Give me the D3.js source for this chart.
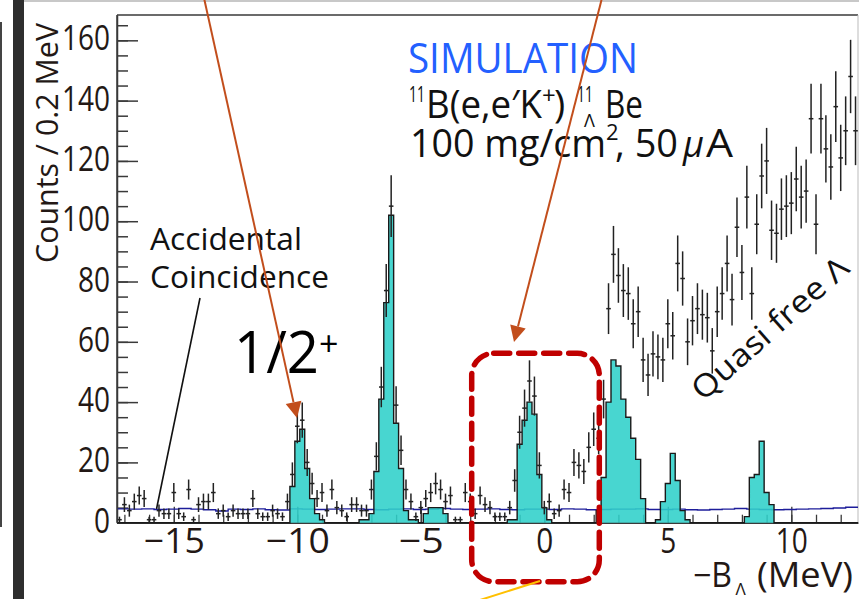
<!DOCTYPE html>
<html><head><meta charset="utf-8">
<script src="https://cdn.jsdelivr.net/npm/d3@7"></script>
<style>
html,body{margin:0;padding:0;background:#fff;}
svg{display:block;}
text{font-family:"Open Sans","Noto Sans",sans-serif;}
</style></head><body>
<svg id="chart" width="859" height="599"></svg>
<script>
// Missing-mass spectrum, 0.2 MeV bins centred on -17.2, -17.0, ... 12.6
const binWidth = 0.2;
const firstBinCenter = -17.2;
const xDomain = [-17.3, 12.7];
const yDomain = [0, 168.4];
const xTickValues = [-15, -10, -5, 0, 5, 10];
const yTickValues = [0, 20, 40, 60, 80, 100, 120, 140, 160];

// Counts per bin (black points with statistical errors)
const observedCounts = [
  1, 6, 4, 7, 9, 8, 1, 1, 4, 3,
  3, 10, 3, 2, 11, 1, 6, 7, 7, 10,
  3, 4, 2, 4, 3, 3, 3, 8, 3, 2,
  2, 4, 3, 2, 7, 16, 32, 34, 20, 13,
  8, 10, 4, 11, 5, 4, 2, 6, 6, 4,
  4, 11, 22, 45, 77, 105, 39, 24, 11, 7,
  2, 5, 8, 10, 13, 11, 7, 9, 1, 1,
  10, 7, 3, 9, 6, 5, 2, 2, 2, 5,
  14, 30, 38, 47, 42, 19, 5, 7, 3, 4,
  11, 10, 20, 19, 17, 25, 31, 28, 41, 71,
  89, 82, 77, 76, 66, 70, 54, 49, 56, 55,
  54, 66, 62, 86, 81, 60, 67, 71, 69, 68,
  57, 70, 76, 86, 74, 98, 83, 108, 76, 99,
  115, 120, 97, 96, 104, 105, 106, 114, 108, 110,
  134, 99, 134, 124, 118, 138, 121, 130, 148, 130
];

// Hypernuclear states (filled histogram)
const simulatedCounts = [
  0, 0, 0, 0, 0, 0, 0, 0, 0, 0,
  0, 0, 0, 0, 0, 0, 0, 0, 0, 0,
  0, 0, 0, 0, 0, 0, 0, 0, 0, 0,
  0, 0, 0, 0, 0, 12, 27, 31, 18, 8,
  3, 1, 0, 0, 0, 0, 0, 0, 0, 1,
  1, 3, 17, 41, 73, 102, 33, 18, 4, 1,
  1, 0, 3, 5, 5, 5, 3, 0, 0, 0,
  0, 0, 0, 0, 0, 0, 0, 0, 0, 1,
  1, 26, 34, 40, 36, 16, 5, 1, 0, 0,
  0, 0, 0, 0, 0, 0, 0, 4, 15, 40,
  54, 52, 41, 35, 28, 21, 8, 0, 0, 1,
  7, 13, 23, 14, 4, 1, 0, 0, 0, 0,
  0, 0, 0, 0, 0, 0, 0, 2, 15, 16,
  27, 10, 6, 0, 0, 0, 0, 0, 0, 0,
  0, 0, 0, 0, 0, 0, 0, 0, 0, 0
];

// Accidental coincidence level, 0.5 MeV steps from -17.3 MeV
const accidentalStep = 0.5;
const accidentalLevel = [
  4.6, 4.5, 4.6, 4.4, 4.5, 4.7, 4.5, 4.3, 3.9, 4.5,
  4.4, 4.6, 4.3, 4.2, 4.6, 4.5, 4.4, 4.5, 4.6, 4.6,
  4.4, 4.3, 4.5, 4.6, 4.4, 4.5, 4.7, 4.5, 4.4, 4.5,
  4.6, 4.4, 4.3, 4.5, 4.5, 4.4, 4.6, 4.5, 4.3, 4.4,
  4.5, 4.5, 4.6, 4.4, 4.4, 4.5, 4.3, 4.2, 4.4, 4.5,
  4.7, 4.5, 4.4, 4.3, 4.4, 4.5, 4.6, 4.7, 4.9, 5.1
];

const svg = d3.select("#chart");
const x = d3.scaleLinear().domain(xDomain).range([117, 858]);
const y = d3.scaleLinear().domain(yDomain).range([522.7, 15]);
const ink = "#231815";

// slide decorations around the figure
svg.append("rect").attr("x", 13).attr("y", 0).attr("width", 11).attr("height", 599).attr("fill", "#2e2e2e");
svg.append("line").attr("x1", 1).attr("x2", 1).attr("y1", 22).attr("y2", 527).attr("stroke", "#444").attr("stroke-width", 2);
svg.append("line").attr("x1", 24).attr("x2", 859).attr("y1", 1).attr("y2", 1).attr("stroke", "#c8c8c8").attr("stroke-width", 2);

// frame
svg.append("line").attr("x1", 117).attr("x2", 858).attr("y1", 15).attr("y2", 15).attr("stroke", "#3a3a3a").attr("stroke-width", 1.5);
svg.append("line").attr("x1", 858).attr("x2", 858).attr("y1", 15).attr("y2", 522.7).attr("stroke", "#bbb").attr("stroke-width", 1);

// axes
const yMinor = d3.range(0, 168, 5);
svg.append("g").attr("transform", "translate(117,0)")
  .call(d3.axisLeft(y).tickValues(yMinor).tickSizeInner(-11).tickSizeOuter(0).tickFormat(""))
  .call(g => g.select(".domain").remove())
  .selectAll("line").attr("stroke", "#3a3a3a").attr("stroke-width", 1.5);
const yAxis = svg.append("g").attr("transform", "translate(117,0)")
  .call(d3.axisLeft(y).tickValues(yTickValues).tickSizeInner(-21).tickSizeOuter(0).tickPadding(7));
yAxis.select(".domain").attr("stroke", "#3a3a3a").attr("stroke-width", 1.5);
yAxis.selectAll("line").attr("stroke", "#3a3a3a").attr("stroke-width", 1.5);
yAxis.selectAll("text").attr("dy", null).attr("y", 9.5)
  .attr("fill", ink).style("font-size", "35px").style("font-family", "'Open Sans'")
  .attr("textLength", d => String(d).length * 16).attr("lengthAdjust", "spacingAndGlyphs");

const xMinor = d3.range(-17, 13, 1);
svg.append("g").attr("transform", "translate(0,522.7)")
  .call(d3.axisBottom(x).tickValues(xMinor).tickSizeInner(-8).tickSizeOuter(0).tickFormat(""))
  .call(g => g.select(".domain").remove())
  .selectAll("line").attr("stroke", "#3a3a3a").attr("stroke-width", 1.3);
const xLabelWidth = {"-15": 61, "-10": 64, "-5": 45, "0": 17, "5": 16, "10": 32};
const xAxis = svg.append("g").attr("transform", "translate(0,522.7)")
  .call(d3.axisBottom(x).tickValues(xTickValues).tickSizeInner(-16).tickSizeOuter(0));
xAxis.select(".domain").attr("stroke", "#3a3a3a").attr("stroke-width", 1.8);
xAxis.selectAll("line").attr("stroke", "#3a3a3a").attr("stroke-width", 1.3);
xAxis.selectAll("text").attr("dy", null).attr("y", 30.6)
  .attr("fill", ink).style("font-size", "35px").style("font-family", "'Open Sans'")
  .attr("textLength", d => xLabelWidth[String(d)]).attr("lengthAdjust", "spacingAndGlyphs");

// axis titles
svg.append("text").attr("transform", "translate(58,263) rotate(-90)")
  .attr("fill", ink).style("font-size", "31px")
  .attr("textLength", 240).attr("lengthAdjust", "spacingAndGlyphs")
  .text("Counts / 0.2 MeV");
const xt = svg.append("g").attr("fill", ink);
xt.append("text").attr("x", 693).attr("y", 586.7).style("font-size", "34px")
  .attr("textLength", 39).attr("lengthAdjust", "spacingAndGlyphs").text("\u2212B");
xt.append("text").attr("x", 735.5).attr("y", 594.5).style("font-size", "17px").text("\u039B");
xt.append("text").attr("x", 757).attr("y", 586.7).style("font-size", "34px")
  .attr("textLength", 96).attr("lengthAdjust", "spacingAndGlyphs").text("(MeV)");

// accidental background level
const accPts = [];
accidentalLevel.forEach((v, i) => {
  accPts.push([xDomain[0] + i * accidentalStep, v]);
  accPts.push([xDomain[0] + (i + 1) * accidentalStep, v]);
});
const line = d3.line().x(d => x(d[0])).y(d => y(d[1]));
svg.append("path").attr("d", line(accPts)).attr("fill", "none")
  .attr("stroke", "#1d1d9a").attr("stroke-width", 1.4);

// simulated spectrum histogram
const simPts = [[xDomain[0], 0]];
simulatedCounts.forEach((c, i) => {
  const c0 = firstBinCenter + i * binWidth;
  simPts.push([c0 - binWidth / 2, c]);
  simPts.push([c0 + binWidth / 2, c]);
});
simPts.push([xDomain[1], 0]);
svg.append("path").attr("d", line(simPts) + "Z").attr("fill", "#2fd0c9").attr("fill-opacity", 0.88).attr("stroke", "none");
svg.append("path").attr("d", line(simPts)).attr("fill", "none").attr("stroke", "#1a1a1a").attr("stroke-width", 1.4);

// data points with sqrt(N) errors
const pts = svg.append("g").attr("stroke", "#222").attr("stroke-width", 1.5);
observedCounts.forEach((c, i) => {
  if (c <= 0) return;
  const cx = x(firstBinCenter + i * binWidth);
  const e = Math.sqrt(c);
  pts.append("line").attr("x1", cx).attr("x2", cx).attr("y1", y(c - e)).attr("y2", y(Math.min(c + e, yDomain[1])));
  pts.append("line").attr("x1", cx - 2.3).attr("x2", cx + 2.3).attr("y1", y(c)).attr("y2", y(c));
});

// left axis line on top
svg.append("line").attr("x1", 117).attr("x2", 117).attr("y1", 15).attr("y2", 522.7).attr("stroke", "#3a3a3a").attr("stroke-width", 1.5);

// labels inside the frame
svg.append("text").attr("x", 408).attr("y", 73).attr("fill", "#2360ff").style("font-size", "42px")
  .attr("textLength", 230).attr("lengthAdjust", "spacingAndGlyphs").text("SIMULATION");

const r1 = svg.append("g").attr("fill", "#111");
r1.append("text").attr("x", 409).attr("y", 102).style("font-size", "22px").attr("textLength", 16).attr("lengthAdjust", "spacingAndGlyphs").text("11");
r1.append("text").attr("x", 426).attr("y", 118.3).style("font-size", "38px").attr("textLength", 116).attr("lengthAdjust", "spacingAndGlyphs").text("B(e,e\u2032K");
r1.append("text").attr("x", 542).attr("y", 104).style("font-size", "24px").text("+");
r1.append("text").attr("x", 554).attr("y", 118.3).style("font-size", "38px").text(")");
r1.append("text").attr("x", 577).attr("y", 102).style("font-size", "22px").attr("textLength", 16).attr("lengthAdjust", "spacingAndGlyphs").text("11");
r1.append("text").attr("x", 584).attr("y", 127).style("font-size", "18px").text("\u039B");
r1.append("text").attr("x", 605).attr("y", 118.3).style("font-size", "38px").attr("textLength", 38).attr("lengthAdjust", "spacingAndGlyphs").text("Be");

const r2 = svg.append("g").attr("fill", "#111");
r2.append("text").attr("x", 410).attr("y", 157).style("font-size", "38px").attr("textLength", 196).attr("lengthAdjust", "spacingAndGlyphs").text("100 mg/cm");
r2.append("text").attr("x", 606).attr("y", 140).style("font-size", "22px").text("2");
r2.append("text").attr("x", 615).attr("y", 157).style("font-size", "38px").attr("textLength", 63).attr("lengthAdjust", "spacingAndGlyphs").text(", 50");
r2.append("text").attr("x", 683).attr("y", 157).style("font-size", "36px").style("font-style", "italic").text("\u03BC");
r2.append("text").attr("x", 706).attr("y", 157).style("font-size", "38px").attr("textLength", 27).attr("lengthAdjust", "spacingAndGlyphs").text("A");

svg.append("text").attr("x", 150).attr("y", 250).attr("fill", "#111").style("font-size", "31px")
  .attr("textLength", 152).attr("lengthAdjust", "spacingAndGlyphs").text("Accidental");
svg.append("text").attr("x", 150).attr("y", 288).attr("fill", "#111").style("font-size", "31px")
  .attr("textLength", 179).attr("lengthAdjust", "spacingAndGlyphs").text("Coincidence");
svg.append("line").attr("x1", 200).attr("y1", 298).attr("x2", 156.5).attr("y2", 509)
  .attr("stroke", "#111").attr("stroke-width", 1.6);

svg.append("text").attr("x", 234).attr("y", 373).attr("fill", "#000").style("font-size", "58px")
  .attr("textLength", 85).attr("lengthAdjust", "spacingAndGlyphs").text("1/2");
svg.append("text").attr("x", 319).attr("y", 356).attr("fill", "#000").style("font-size", "34px").text("+");

svg.append("text").attr("transform", "translate(703,402) rotate(-41.5)")
  .attr("fill", "#111").style("font-size", "31px")
  .attr("textLength", 198).attr("lengthAdjust", "spacingAndGlyphs").text("Quasi free \u039B");

// highlight box around the ground-state region
svg.append("rect").attr("x", 471.7).attr("y", 353.3).attr("width", 127.6).attr("height", 228.4)
  .attr("rx", 22).attr("ry", 22).attr("fill", "none")
  .attr("stroke", "#c00000").attr("stroke-width", 5.5).attr("stroke-dasharray", "16 9").attr("stroke-linecap", "round");

// pointer arrows
function arrow(sx, sy, tx, ty, color) {
  const dx = tx - sx, dy = ty - sy, len = Math.hypot(dx, dy);
  const ux = dx / len, uy = dy / len, L = 16, W = 8;
  const bx = tx - L * ux, by = ty - L * uy;
  svg.append("line").attr("x1", sx).attr("y1", sy).attr("x2", bx).attr("y2", by)
    .attr("stroke", color).attr("stroke-width", 2);
  svg.append("path").attr("d", `M${tx},${ty}L${bx - W * uy},${by + W * ux}L${bx + W * uy},${by - W * ux}Z`)
    .attr("fill", color);
}
arrow(204, -2, 297, 418, "#c24e1c");
arrow(602, -2, 514, 342, "#c24e1c");
svg.append("line").attr("x1", 480).attr("y1", 600).attr("x2", 540).attr("y2", 581)
  .attr("stroke", "#ffc000").attr("stroke-width", 2);
</script>
</body></html>
